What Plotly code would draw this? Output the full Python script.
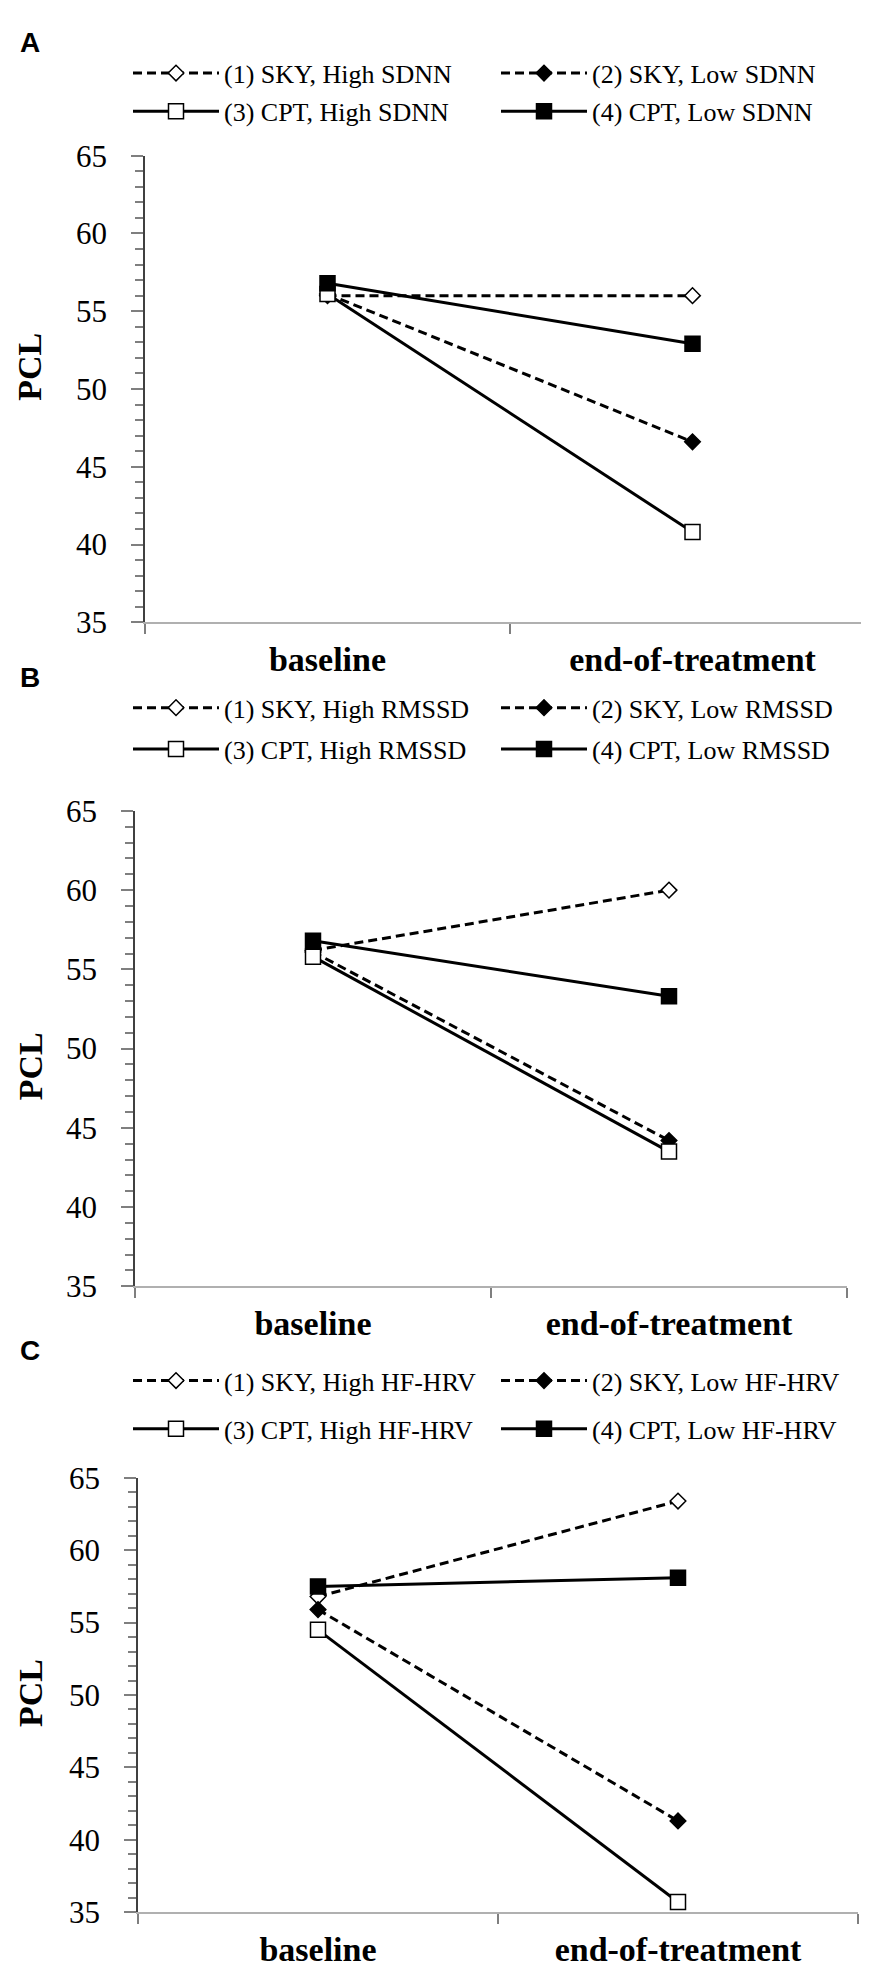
import plotly.graph_objects as go

W, H = 869, 1983

categories = ["baseline", "end-of-treatment"]

# panel A (SDNN)
sky_high_sdnn = [56.0, 56.0]
sky_low_sdnn = [56.1, 46.6]
cpt_high_sdnn = [56.1, 40.8]
cpt_low_sdnn = [56.8, 52.9]

# panel B (RMSSD)
sky_high_rmssd = [56.2, 60.0]
sky_low_rmssd = [56.1, 44.2]
cpt_high_rmssd = [55.8, 43.5]
cpt_low_rmssd = [56.8, 53.3]

# panel C (HF-HRV)
sky_high_hf = [56.8, 63.4]
sky_low_hf = [55.9, 41.3]
cpt_high_hf = [54.5, 35.7]
cpt_low_hf = [57.5, 58.1]

y_ticks = [35, 40, 45, 50, 55, 60, 65]

SERIF = "Liberation Serif"

# pixel boxes of each panel: (left, right, top, bottom), legend rows, label y
panels = [
    dict(key="SDNN", box=(137, 867, 133, 608), rows=(49, 88), tag="A", tag_y=18, pcl_y=348,
         series=[sky_high_sdnn, sky_low_sdnn, cpt_high_sdnn, cpt_low_sdnn]),
    dict(key="RMSSD", box=(127, 839, 800, 1284), rows=(695, 737), tag="B", tag_y=664, pcl_y=1060,
         series=[sky_high_rmssd, sky_low_rmssd, cpt_high_rmssd, cpt_low_rmssd]),
    dict(key="HF-HRV", box=(130, 850, 1479, 1921), rows=(1380, 1429), tag="C", tag_y=1349, pcl_y=1698,
         series=[sky_high_hf, sky_low_hf, cpt_high_hf, cpt_low_hf]),
]

styles = [
    dict(label="(1) SKY, High {}", dash="9px,5px", symbol="diamond", fill="white", size=12),
    dict(label="(2) SKY, Low {}", dash="9px,5px", symbol="diamond", fill="black", size=12),
    dict(label="(3) CPT, High {}", dash="solid", symbol="square", fill="white", size=15),
    dict(label="(4) CPT, Low {}", dash="solid", symbol="square", fill="black", size=15),
]

fig = go.Figure()
layout = {}
annotations = []

for i, p in enumerate(panels):
    n = "" if i == 0 else str(i + 1)
    left, right, top, bottom = p["box"]
    for j, (vals, st) in enumerate(zip(p["series"], styles)):
        leg_idx = 2 * i + (0 if j < 2 else 1) + 1
        leg_name = "legend" if leg_idx == 1 else "legend%d" % leg_idx
        fig.add_trace(go.Scatter(
            x=categories, y=vals, mode="lines+markers",
            name=st["label"].format(p["key"]),
            line=dict(color="black", width=3, dash=st["dash"]),
            marker=dict(symbol=st["symbol"], size=st["size"], color=st["fill"],
                        line=dict(color="black", width=1.5)),
            xaxis="x" + n, yaxis="y" + n, legend=leg_name,
        ))
    layout["xaxis" + n] = dict(
        domain=[left / W, right / W], anchor="y" + n,
        type="category", categoryarray=categories, range=[-0.5, 1.5],
        tickson="boundaries", ticks="outside", ticklen=10, tickwidth=1.5, tickcolor="#7f7f7f",
        showline=True, linecolor="#b0b0b0", linewidth=2, showgrid=False, zeroline=False,
        tickfont=dict(family=SERIF, size=34, color="black", weight="bold"),
        ticklabelstandoff=6,
    )
    layout["yaxis" + n] = dict(
        domain=[1 - bottom / H, 1 - top / H], anchor="x" + n,
        range=[35, 65], tickvals=y_ticks, ticks="outside", ticklen=12, tickwidth=1.5,
        tickcolor="#7f7f7f", showline=True, linecolor="#404040", linewidth=1.5,
        showgrid=False, zeroline=False,
        minor=dict(dtick=1, ticks="outside", ticklen=8, tickwidth=1.5, tickcolor="#7f7f7f", showgrid=False),
        tickfont=dict(family=SERIF, size=31, color="black"),
        ticklabelstandoff=18,
    )
    for r, ry in enumerate(p["rows"]):
        leg_idx = 2 * i + r + 1
        leg_name = "legend" if leg_idx == 1 else "legend%d" % leg_idx
        layout[leg_name] = dict(
            orientation="h", x=120 / W, xanchor="left", y=1 - ry / H, yanchor="middle",
            itemwidth=86, entrywidth=267, entrywidthmode="pixels",
            font=dict(family=SERIF, size=26, color="black"),
            bgcolor="rgba(0,0,0,0)", borderwidth=0, traceorder="normal",
            itemclick=False, itemdoubleclick=False,
        )
    annotations.append(dict(
        text="PCL", textangle=-90, x=22 / W, y=1 - p["pcl_y"] / H, xref="paper", yref="paper",
        xanchor="center", yanchor="middle", showarrow=False,
        font=dict(family=SERIF, size=34, color="black", weight="bold"),
    ))
    annotations.append(dict(
        text=p["tag"], x=22 / W, y=1 - p["tag_y"] / H, xref="paper", yref="paper",
        xanchor="center", yanchor="middle", showarrow=False,
        font=dict(family="Liberation Sans", size=28, color="black", weight="bold"),
    ))

fig.update_layout(
    width=W, height=H, margin=dict(l=0, r=0, t=0, b=0),
    font=dict(family=SERIF, color="black"),
    plot_bgcolor="white", paper_bgcolor="white",
    showlegend=True, annotations=annotations, **layout,
)

fig.write_html("out.html", config={"displayModeBar": False})
